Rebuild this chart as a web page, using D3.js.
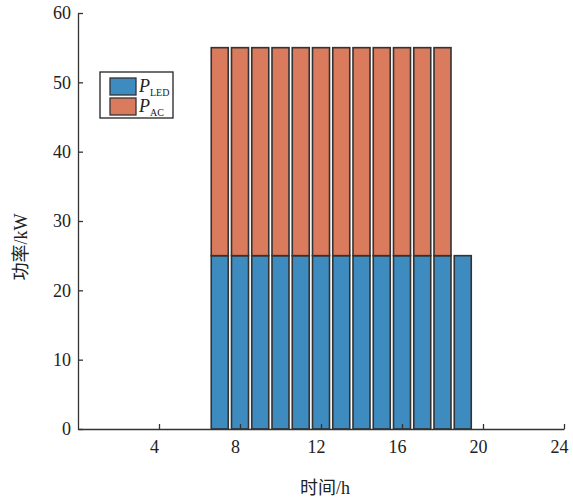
<!DOCTYPE html>
<html><head><meta charset="utf-8">
<script src="https://cdn.jsdelivr.net/npm/d3@7"></script>
<style>body{margin:0;background:#fff}</style>
</head><body>
<script>
const hours = [7,8,9,10,11,12,13,14,15,16,17,18,19];
const pLED = [25,25,25,25,25,25,25,25,25,25,25,25,25];
const pAC  = [30,30,30,30,30,30,30,30,30,30,30,30,0];
const seriesNames = ["LED","AC"];
const colors = ["#3d8bbf","#da7b5d"];
const xTicks = [4,8,12,16,20,24];
const yTicks = [0,10,20,30,40,50,60];

const W=573,H=501;
const svg=d3.select("body").append("svg").attr("width",W).attr("height",H);
const font="'Liberation Serif','Times New Roman',serif";
const x=d3.scaleLinear().domain([0,24]).range([78,564]);
const y=d3.scaleLinear().domain([0,60]).range([429,13]);

const data=hours.map((h,i)=>({h,LED:pLED[i],AC:pAC[i]}));
const stack=d3.stack().keys(seriesNames)(data);
const bw=x(0.84)-x(0);
stack.forEach((s,si)=>{
  svg.append("g").selectAll("rect").data(s.filter(d=>d[1]>d[0])).join("rect")
    .attr("x",d=>x(d.data.h)-bw/2).attr("width",bw)
    .attr("y",d=>y(d[1])).attr("height",d=>y(d[0])-y(d[1]))
    .attr("fill",colors[si]).attr("stroke","#333").attr("stroke-width",1.6);
});

const xa=svg.append("g").attr("transform","translate(0,429)")
  .call(d3.axisBottom(x).tickValues(xTicks).tickSize(-5).tickPadding(11).tickSizeOuter(0));
const ya=svg.append("g").attr("transform","translate(78,0)")
  .call(d3.axisLeft(y).tickValues(yTicks).tickSize(-5).tickPadding(7).tickSizeOuter(0));
[xa,ya].forEach(a=>{
  a.select(".domain").attr("stroke","#333").attr("stroke-width",1.3);
  a.selectAll(".tick line").attr("stroke","#333").attr("stroke-width",1.3);
  a.selectAll(".tick text").attr("font-family",font).attr("font-size",18).attr("fill","#222");
});
xa.selectAll(".tick text").attr("dx",-5);

svg.append("text").attr("x",325).attr("y",494).attr("text-anchor","middle")
  .attr("font-family",font+",'Noto Sans CJK SC'").attr("font-size",18).attr("fill","#222").text("时间/h");
svg.append("text").attr("transform","translate(27,247) rotate(-90)").attr("text-anchor","middle")
  .attr("font-family",font+",'Noto Sans CJK SC'").attr("font-size",18).attr("fill","#222").text("功率/kW");

const lg=svg.append("g");
lg.append("rect").attr("x",100).attr("y",72).attr("width",73).attr("height",46)
  .attr("fill","#fff").attr("stroke","#222").attr("stroke-width",1.3);
seriesNames.forEach((n,i)=>{
  const yy=78+i*20;
  lg.append("rect").attr("x",110).attr("y",yy).attr("width",26).attr("height",17)
    .attr("fill",colors[i]).attr("stroke","#333").attr("stroke-width",1.3);
  const t=lg.append("text").attr("x",139).attr("y",yy+14).attr("font-family",font).attr("fill","#222");
  t.append("tspan").attr("font-style","italic").attr("font-size",18).text("P");
  t.append("tspan").attr("font-size",10).attr("dy",4).text(n);
});
</script>
</body></html>
